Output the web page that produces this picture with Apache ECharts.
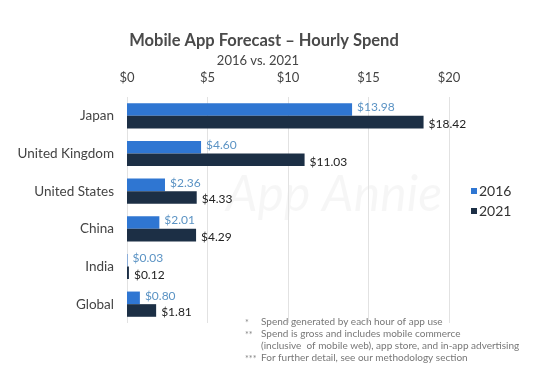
<!DOCTYPE html>
<html><head><meta charset="utf-8">
<script src="https://cdn.jsdelivr.net/npm/echarts@6/dist/echarts.min.js"></script>
<style>html,body{margin:0;padding:0;background:#fff}#c{width:545px;height:387px}</style>
</head><body><div id="c"></div>
<script>
const categories = ["Japan","United Kingdom","United States","China","India","Global"];
const spend2016 = [13.98, 4.60, 2.36, 2.01, 0.03, 0.80];
const spend2021 = [18.42, 11.03, 4.33, 4.29, 0.12, 1.81];
const xTicks = [0, 5, 10, 15, 20];
const notes = [
  ["*", "Spend generated by each hour of app use"],
  ["**", "Spend is gross and includes mobile commerce"],
  ["", "(inclusive  of mobile web), app store, and in-app advertising"],
  ["***", "For further detail, see our methodology section"]
];
const FONT = "Lato, 'Open Sans', sans-serif";
const chart = echarts.init(document.getElementById('c'));
const noteGraphics = [];
notes.forEach((n, i) => {
  noteGraphics.push({type:'text', left:245, top:319 + i*12, style:{text:n[0], fill:'#888', font:'9px ' + FONT}});
  noteGraphics.push({type:'text', left:261, top:317 + i*12, style:{text:n[1], fill:'#777', font:'10px ' + FONT}});
});
chart.setOption({
  animation:false,
  backgroundColor:'#fff',
  title:[
    {text:'Mobile App Forecast – Hourly Spend', left:259, textAlign:'center', top:27,
     textStyle:{fontFamily:FONT, fontSize:16.5, fontWeight:'bold', color:'#4a4a4a'}},
    {text:'2016 vs. 2021', left:253, textAlign:'center', top:49,
     textStyle:{fontFamily:FONT, fontSize:13, fontWeight:'normal', color:'#444'}}
  ],
  legend:{orient:'vertical', left:466, top:179, itemWidth:6, itemHeight:6, itemGap:6, icon:'rect',
    textStyle:{fontFamily:FONT, fontSize:14, color:'#333', padding:[0,0,0,-3]},
    data:['2016','2021']},
  grid:{left:127, right:96, top:97, bottom:64},
  xAxis:{type:'value', position:'top', min:0, max:20, interval:5,
    axisLine:{show:false}, axisTick:{show:false},
    axisLabel:{formatter:v => xTicks.includes(v) ? '$' + v : '', margin:13,
      fontFamily:FONT, fontSize:13, color:'#444'},
    splitLine:{lineStyle:{color:'#e2e2e2', width:1}}},
  yAxis:{type:'category', inverse:true, data:categories,
    axisLine:{show:false}, axisTick:{show:false},
    axisLabel:{margin:13, fontFamily:FONT, fontSize:13.5, color:'#444'}},
  graphic:[
    {type:'text', left:226, top:170,
     style:{text:'App Annie', fill:'rgba(0,0,0,0.035)', font:'italic 50px ' + FONT}},
    ...noteGraphics
  ],
  series:[
    {name:'2016', type:'bar', data:spend2016, barGap:'0%', barCategoryGap:'33%',
     itemStyle:{color:'#2f76d2'},
     label:{show:true, position:'right', distance:5, offset:[0,-2],
       formatter:p => '$' + p.value.toFixed(2),
       fontFamily:FONT, fontSize:12, color:'#5b93c4'}},
    {name:'2021', type:'bar', data:spend2021,
     itemStyle:{color:'#1c2f45'},
     label:{show:true, position:'right', distance:5, offset:[0,2],
       formatter:p => '$' + p.value.toFixed(2),
       fontFamily:FONT, fontSize:12, color:'#222'}}
  ]
});
</script></body></html>
